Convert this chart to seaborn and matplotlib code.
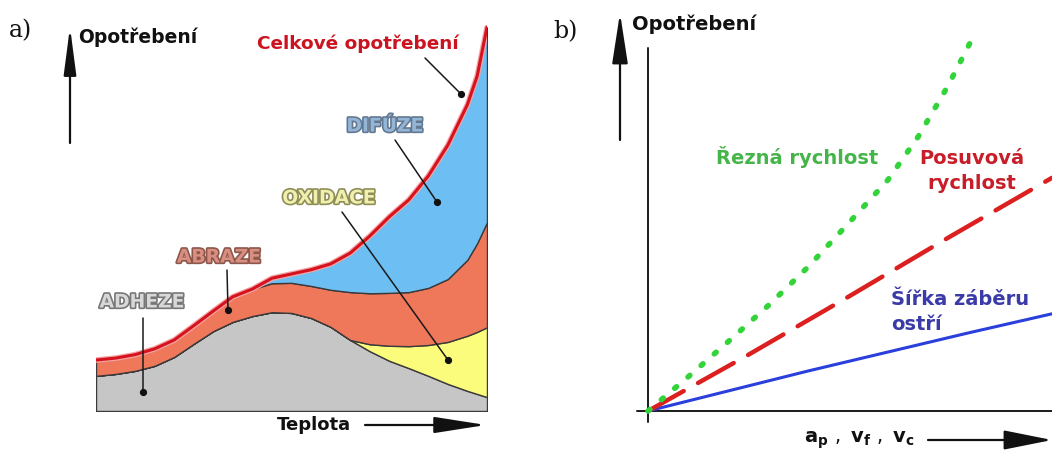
import numpy as np
import pandas as pd
import matplotlib
matplotlib.use("Agg")
import matplotlib.pyplot as plt
import matplotlib.patheffects as pe
from matplotlib.patches import FancyArrowPatch
from matplotlib.lines import Line2D
import seaborn as sns

# ---------------- data: panel a (wear mechanisms vs. temperature) ----------------
teplota = [0, 0.5, 1, 1.5, 2, 2.5, 3, 3.5, 4, 4.5, 5, 5.5, 6, 6.5,
           7, 7.5, 8, 8.5, 9, 9.5, 9.75, 10]
adheze = [9.1, 9.6, 10.4, 11.7, 14.0, 17.4, 20.7, 23.1, 24.6, 25.6, 25.4,
          24.1, 21.8, 18.4, 15.5, 13.0, 11.1, 9.1, 7.0, 5.2, 4.4, 3.6]
oxidace = [0, 0, 0, 0, 0, 0, 0, 0, 0, 0, 0, 0, 0, 0,
           1.8, 3.9, 5.7, 8.0, 10.9, 14.3, 16.1, 18.1]
abraze = [4.1, 4.1, 4.2, 4.4, 4.4, 4.7, 5.2, 6.5, 7.0, 7.5, 7.8, 8.3,
          9.6, 12.4, 13.2, 13.7, 14.0, 14.8, 16.3, 19.7, 23.0, 27.2]
difuze = [0, 0, 0, 0, 0, 0, 0, 0, 0, 1.3, 2.3, 4.2, 6.7, 10.1,
          14.8, 19.7, 23.9, 29.0, 34.7, 40.2, 43.3, 50.5]

# ---------------- data: panel b (wear vs. cutting parameters) ----------------
rezna_x = [0, 1, 2, 3, 4, 5, 6, 6.75, 7.5, 8.05]
rezna_y = [0, 0.85, 1.73, 2.63, 3.6, 4.68, 5.78, 6.85, 8.13, 9.2]
posuv_x = [0, 2.5, 5, 7.5, 10.1]
posuv_y = [0, 1.4, 2.85, 4.33, 5.83]
sirka_x = [0, 4, 8, 10.1]
sirka_y = [0, 1.0, 1.95, 2.43]

# ---------------- style ----------------
sns.set_theme(style="white")
plt.rcParams["font.family"] = ["DejaVu Sans"]
plt.rcParams["mathtext.fontset"] = "dejavusans"

W, H = 1052, 453
fig = plt.figure(figsize=(W / 100, H / 100), dpi=100)


def fp(x, y):
    """pixel position -> figure fraction"""
    return (x / W, 1 - y / H)


def arrow(p0, p1, hl, hw, lw=1.6):
    a = FancyArrowPatch(fp(*p0), fp(*p1), transform=fig.transFigure,
                        arrowstyle=f"-|>,head_length={hl},head_width={hw}",
                        mutation_scale=10, lw=lw, color="#111111",
                        shrinkA=0, shrinkB=0)
    fig.add_artist(a)


def leader(p0, p1):
    (x0, y0), (x1, y1) = fp(*p0), fp(*p1)
    fig.add_artist(Line2D([x0, x1], [y0, y1], transform=fig.transFigure,
                          color="#1a1a1a", lw=1.1))
    fig.add_artist(Line2D([x1], [y1], transform=fig.transFigure, marker="o",
                          ms=4.2, color="#111111", lw=0))


# ---------------- panel a ----------------
ax = fig.add_axes([96 / W, 42 / H, 391 / W, 386 / H])
ax.stackplot(teplota, adheze, oxidace, abraze, difuze,
             colors=["#c6c6c6", "#fbfb7c", "#f0785a", "#6dbff3"],
             edgecolor="#3a3a3a", linewidth=1.0)
celkove = np.sum([adheze, oxidace, abraze, difuze], axis=0)
sns.lineplot(x=teplota, y=celkove, ax=ax, color="#d6121e", lw=2.2,
             path_effects=[pe.Stroke(linewidth=4.0, foreground="#f2a3a3"),
                           pe.Normal()])
ax.set_xlim(0, 10)
ax.set_ylim(0, 100)
ax.axis("off")

fig.text(*fp(21, 31), "a)", family="DejaVu Serif", fontsize=17,
         ha="center", va="center", color="#111111")
arrow((70, 143), (70, 27), 2.9, 0.38)
fig.text(*fp(78, 37), "Opotřebení", fontsize=13.5, fontweight="bold",
         ha="left", va="center", color="#111111")
fig.text(*fp(277, 425), "Teplota", fontsize=13, fontweight="bold",
         ha="left", va="center", color="#111111")
arrow((365, 425), (486, 425), 3.2, 0.5)

fig.text(*fp(358, 44), "Celkové opotřebení", fontsize=13.3, fontweight="bold",
         ha="center", va="center", color="#cc1420")
leader((425, 58), (461, 94))

labels_a = [
    ("DIFÚZE", (385, 126), "#93b6d8", "#64798f", (395, 140), (437, 202)),
    ("OXIDACE", (329, 198), "#f1efb0", "#8d8d55", (342, 212), (448, 360)),
    ("ABRAZE", (219, 257), "#d98f80", "#8c574d", (227, 270), (228, 310)),
    ("ADHEZE", (142, 302), "#d8d8d8", "#777777", (143, 318), (143, 392)),
]
for txt, pos, fill, edge, l0, l1 in labels_a:
    fig.text(*fp(*pos), txt, fontsize=13.5, fontweight="bold", ha="center",
             va="center", color=fill,
             path_effects=[pe.Stroke(linewidth=2.4, foreground=edge),
                           pe.Normal()])
    leader(l0, l1)

# ---------------- panel b ----------------
bx = fig.add_axes([628 / W, 22 / H, 424 / W, 400 / H])
bx.plot([0, 0], [-0.28, 9.08], color="#1a1a1a", lw=1.4)
bx.plot([-0.28, 10.1], [0, 0], color="#1a1a1a", lw=1.4)
sns.lineplot(x=sirka_x, y=sirka_y, ax=bx, color="#2a3fdb", lw=2.2)
sns.lineplot(x=posuv_x, y=posuv_y, ax=bx, color="#dc1f1f", lw=3.2,
             linestyle=(0, (9.2, 3.7)), dash_capstyle="round")
sns.lineplot(x=rezna_x, y=rezna_y, ax=bx, color="#33d43a", lw=4.0,
             linestyle=(0, (0.45, 2.7)), dash_capstyle="round")
bx.set_xlim(-0.5, 10.1)
bx.set_ylim(-0.5, 9.5)
bx.axis("off")

fig.text(*fp(565, 32), "b)", family="DejaVu Serif", fontsize=17,
         ha="center", va="center", color="#111111")
arrow((620, 140), (620, 13), 3.1, 0.48)
fig.text(*fp(632, 24), "Opotřebení", fontsize=14, fontweight="bold",
         ha="left", va="center", color="#111111")
fig.text(*fp(804, 440),
         r"$\mathbf{a}_\mathbf{p}\ ,\ \mathbf{v}_\mathbf{f}\ ,\ \mathbf{v}_\mathbf{c}$",
         fontsize=14, ha="left", va="center", color="#111111")
arrow((928, 440), (1052, 440), 3.0, 0.6)

fig.text(*fp(797, 157), "Řezná rychlost", fontsize=14, fontweight="bold",
         ha="center", va="center", color="#45b449")
fig.text(*fp(972, 171), "Posuvová\nrychlost", fontsize=14, fontweight="bold",
         ha="center", va="center", color="#c81e2a", linespacing=1.35)
fig.text(*fp(891, 312), "Šířka záběru\nostří", fontsize=14, fontweight="bold",
         ha="left", va="center", color="#3a3aa8", linespacing=1.4)

fig.savefig("out.png", dpi=100)
